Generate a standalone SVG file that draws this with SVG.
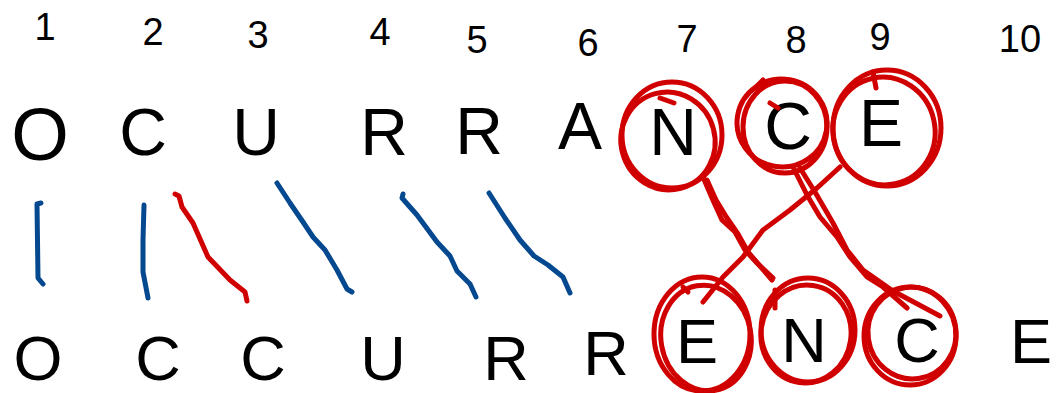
<svg xmlns="http://www.w3.org/2000/svg" width="1061" height="393" viewBox="0 0 1061 393">
<style>
.num{font-family:"Liberation Sans","DejaVu Sans",sans-serif;font-size:38px;fill:#000;text-anchor:middle}
.top{font-family:"Liberation Sans","DejaVu Sans",sans-serif;font-size:66px;fill:#000;text-anchor:middle}
.bot{font-family:"Liberation Sans","DejaVu Sans",sans-serif;font-size:63px;fill:#000;text-anchor:middle}
.blue{fill:none;stroke:#04488f;stroke-width:5;stroke-linecap:round;stroke-linejoin:round}
.red{fill:none;stroke:#d10000;stroke-width:5;stroke-linecap:round;stroke-linejoin:round}
</style>
<rect width="1061" height="393" fill="#fff"/>
<g id="numbers">
<text class="num" x="45" y="40">1</text>
<text class="num" x="153" y="45">2</text>
<text class="num" x="258" y="48">3</text>
<text class="num" x="380" y="45">4</text>
<text class="num" x="477" y="53">5</text>
<text class="num" x="588" y="56">6</text>
<text class="num" x="687" y="52">7</text>
<text class="num" x="796" y="53">8</text>
<text class="num" x="880" y="50">9</text>
<text class="num" x="1020" y="52">10</text>
</g>
<g id="top-row">
<text class="top" x="40" y="160" style="font-size:74px">O</text>
<text class="top" x="143" y="155">C</text>
<text class="top" x="256" y="155">U</text>
<text class="top" x="384" y="155">R</text>
<text class="top" x="479" y="154">R</text>
<text class="top" x="580" y="149">A</text>
<text class="top" x="673" y="155">N</text>
<text class="top" x="788" y="149">C</text>
<text class="top" x="881" y="146">E</text>
</g>
<g id="bottom-row">
<text class="bot" x="38" y="380">O</text>
<text class="bot" x="158" y="380">C</text>
<text class="bot" x="263" y="380">C</text>
<text class="bot" x="383" y="380">U</text>
<text class="bot" x="506" y="380">R</text>
<text class="bot" x="606" y="375">R</text>
<text class="bot" x="697" y="363">E</text>
<text class="bot" x="804" y="362">N</text>
<text class="bot" x="917" y="362">C</text>
<text class="bot" x="1031" y="363">E</text>
</g>
<g id="connectors">
<path class="blue" d="M41,203 L37,204 L38,278 L43,284"/>
<path class="blue" d="M144,205 L143,240 L143,272 L148,298"/>
<path class="red" d="M175,194 L179,196 L182,207 L193,223 L208,257 L230,280 L245,292 L247,301"/>
<path class="blue" d="M277,183 L290,203 L303,222 L313,237 L325,250 L337,270 L347,289 L352,292"/>
<path class="blue" d="M403,194 L402,198 L417,215 L437,242 L450,256 L457,271 L470,284 L476,297"/>
<path class="blue" d="M489,193 L505,218 L520,240 L534,256 L548,265 L563,277 L570,293"/>
<path class="red" d="M703,177 L712,198 L722,220 L735,232 L745,250 L757,263 L773,278"/>
<path class="red" d="M707,180 L716,200 L727,218 L738,234 L748,252 L760,266 L772,280"/>
<path class="red" d="M793,167 L807,195 L820,217 L837,237 L850,257 L867,277 L883,287 L907,308"/>
<path class="red" d="M800,168 L815,192 L833,223 L847,250 L863,270 L893,291 L940,316"/>
<path class="red" d="M840,167 L817,188 L790,210 L763,230 L743,257 L723,277 L703,302"/>
</g>
<g id="circles">
<ellipse class="red" cx="672" cy="135" rx="50" ry="53"/>
<ellipse class="red" cx="668" cy="141" rx="47" ry="49" transform="rotate(-15 668 141)"/>
<path class="red" d="M660,98 L674,103"/>
<ellipse class="red" cx="785" cy="127" rx="42" ry="46"/>
<ellipse class="red" cx="782" cy="123" rx="45" ry="44" transform="rotate(10 782 123)"/>
<path class="red" d="M755,88 L763,80 M770,103 L778,108"/>
<ellipse class="red" cx="887" cy="128" rx="54" ry="58"/>
<ellipse class="red" cx="884" cy="131" rx="51" ry="54" transform="rotate(-12 884 131)"/>
<path class="red" d="M873,72 L876,88"/>
<ellipse class="red" cx="702" cy="334" rx="48" ry="57"/>
<ellipse class="red" cx="706" cy="338" rx="45" ry="53" transform="rotate(-10 706 338)"/>
<path class="red" d="M683,287 L688,292"/>
<ellipse class="red" cx="808" cy="330" rx="47" ry="52"/>
<ellipse class="red" cx="806" cy="334" rx="45" ry="49" transform="rotate(8 806 334)"/>
<path class="red" d="M775,290 L775,308"/>
<ellipse class="red" cx="910" cy="336" rx="46" ry="49"/>
<ellipse class="red" cx="912" cy="333" rx="44" ry="46" transform="rotate(-8 912 333)"/>
</g>
</svg>
